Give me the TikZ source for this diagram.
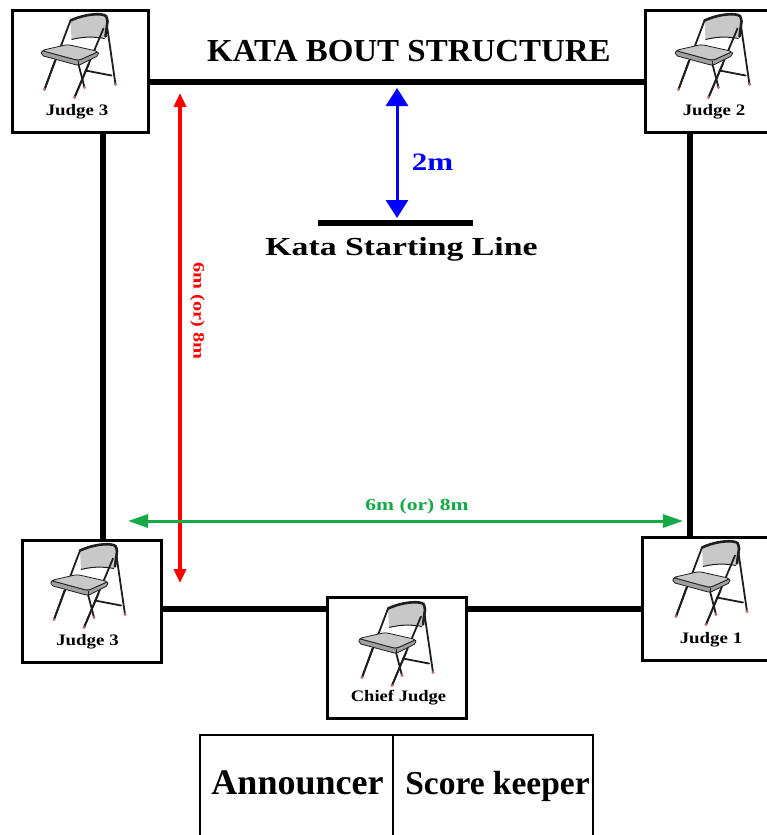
\documentclass[tikz,border=0pt]{standalone}
\usepackage{graphicx}
\usepackage{fontspec}
\setmainfont{Liberation Serif}
\usetikzlibrary{arrows.meta,calc}
\definecolor{rd}{RGB}{255,0,0}
\definecolor{gr}{RGB}{20,170,70}
\definecolor{bl}{RGB}{0,0,255}
\definecolor{seatgray}{RGB}{200,200,200}
\definecolor{seatdark}{RGB}{160,160,160}
\definecolor{chairline}{RGB}{30,30,30}
\definecolor{footcol}{RGB}{205,110,110}
\tikzset{
  chairstroke/.style={draw=chairline, line width=1.8pt, line cap=round},
  chair/.pic={
    % rear legs and brace
    \draw[chairstroke] (65,8) -- (74,70);
    \draw[chairstroke] (36,46) -- (43,73);
    \draw[chairstroke] (44,56) -- (70,61);
    % backrest
    \fill[seatgray] (29,6) .. controls (40,1) and (52,-1) .. (60,0) .. controls (65,1) .. (66,7) -- (63,24) .. controls (52,22) and (42,22) .. (30,25) -- cycle;
    \draw[draw=chairline, line width=2.6pt, line cap=round] (29,6) .. controls (40,1) and (52,-1) .. (60,0) .. controls (65,1) .. (66,7) -- (64,22);
    \draw[draw=chairline, line width=1pt] (63,24) .. controls (52,22) and (42,22) .. (30,25);
    % front uprights
    \draw[chairstroke] (29,6) -- (3,75);
    \draw[chairstroke] (62,14) -- (33,83);
    % seat
    \filldraw[fill=seatdark, draw=chairline, line width=0.8pt, rounded corners=2pt] (0,36) -- (37,46) -- (57,37) -- (57,41) -- (37,51) -- (0,41) -- cycle;
    \filldraw[fill=seatgray, draw=chairline, line width=0.8pt, rounded corners=3pt] (0,36) -- (26,30) -- (57,37) -- (37,46) -- cycle;
    \draw[draw=chairline, line width=0.6pt] (37,46) -- (37,51);
    % legs below seat (front)
    \draw[chairstroke] (13.5,46) -- (3,75);
    \draw[chairstroke] (47.5,49) -- (33,83);
    % feet
    \fill[footcol] (3,75) circle (1.7);
    \fill[footcol] (33,83) circle (1.7);
    \fill[footcol] (43,73) circle (1.7);
    \fill[footcol] (74,70) circle (1.7);
  },
  judgebox/.style={draw, line width=3pt, fill=white, inner sep=0pt, minimum width=#1, minimum height=122pt},
  lbl/.style={font=\bfseries\fontsize{16}{16}\selectfont, inner sep=0pt, anchor=base},
  matline/.style={line width=6pt},
}
\begin{document}
\begin{tikzpicture}[x=1pt,y=-1pt]
\useasboundingbox (0,0) rectangle (767,835);
\fill[white] (0,0) rectangle (767,835);

% competition area
\draw[matline] (103,82) rectangle (690,609);

% title
\node[font=\bfseries\fontsize{32}{32}\selectfont, inner sep=0pt, anchor=base] (title) at (409,61) {\scalebox{1.03}[1]{KATA BOUT STRUCTURE}};

% judge boxes
\node[judgebox=136pt] (jtl) at (80,71) {};
\node[judgebox=136pt] (jtr) at (713,71) {};
\node[judgebox=139pt] (jbl) at (91.5,601) {};
\node[judgebox=138pt, minimum height=123pt] (jbr) at (711,598.5) {};
\node[judgebox=139pt, minimum height=121pt] (chief) at (396.5,657.5) {};

\pic at ($(jtl.north)+(-38.5,6)$) {chair};
\pic at ($(jtr.north)+(-37.5,6)$) {chair};
\pic at ($(jbl.north)+(-40.5,6)$) {chair};
\pic at ($(jbr.north)+(-38,6)$) {chair};
\pic at ($(chief.north)+(-37.5,7)$) {chair};

\node[lbl] (ljtl) at ($(jtl.north)+(-3,107)$) {\scalebox{1.18}[1]{Judge 3}};
\node[lbl] (ljtr) at ($(jtr.north)+(1,107)$) {\scalebox{1.18}[1]{Judge 2}};
\node[lbl] (ljbl) at ($(jbl.north)+(-4,107)$) {\scalebox{1.18}[1]{Judge 3}};
\node[lbl] (ljbr) at ($(jbr.north)+(0,108)$) {\scalebox{1.18}[1]{Judge 1}};
\node[lbl] (lchief) at ($(chief.north)+(2,106)$) {\scalebox{1.16}[1]{Chief Judge}};

% kata starting line
\coordinate (kl) at (318,223);
\coordinate (kr) at (473,223);
\draw[matline] (kl) -- (kr);
\node[font=\bfseries\fontsize{26}{26}\selectfont, inner sep=0pt, anchor=base] (kataline) at (401.5,255) {\scalebox{1.3}[1]{Kata Starting Line}};

% blue 2m arrow
\coordinate (bt) at (397,88);
\coordinate (bb) at (397,218);
\draw[bl, line width=3pt, {Triangle[length=18pt,width=22pt]}-{Triangle[length=18pt,width=22pt]}] (bt) -- (bb);
\node[bl, font=\bfseries\fontsize{25}{25}\selectfont, inner sep=0pt, anchor=base] (twom) at (432.5,170) {\scalebox{1.24}[1]{2m}};

% red vertical arrow
\coordinate (rt) at (180,93);
\coordinate (rb) at (180,583);
\draw[rd, line width=4pt, {Triangle[length=14pt,width=12pt]}-{Triangle[length=14pt,width=12pt]}] (rt) -- (rb);
\node[rd, font=\bfseries\fontsize{16}{16}\selectfont, inner sep=0pt, rotate=-90] (redlbl) at (197.5,311) {\scalebox{1.27}[1]{6m (or) 8m}};

% green horizontal arrow
\coordinate (gl) at (128,521);
\coordinate (gr) at (683,521);
\draw[gr, line width=3pt, {Triangle[length=20pt,width=13pt]}-{Triangle[length=20pt,width=13pt]}] (gl) -- (gr);
\node[gr, font=\bfseries\fontsize{17}{17}\selectfont, inner sep=0pt, anchor=base] (greenlbl) at (417,510) {\scalebox{1.27}[1]{6m (or) 8m}};

% officials table
\draw[line width=1.5pt] (200,735) rectangle (593,850);
\draw[line width=1.5pt] (393,735) -- (393,850);
\node[font=\bfseries\fontsize{36}{36}\selectfont, inner sep=0pt, anchor=base] (announcer) at (297.5,794) {Announcer};
\node[font=\bfseries\fontsize{33.5}{33.5}\selectfont, inner sep=0pt, anchor=base] (scorekeeper) at (497.5,794) {Score keeper};
\end{tikzpicture}
\end{document}
